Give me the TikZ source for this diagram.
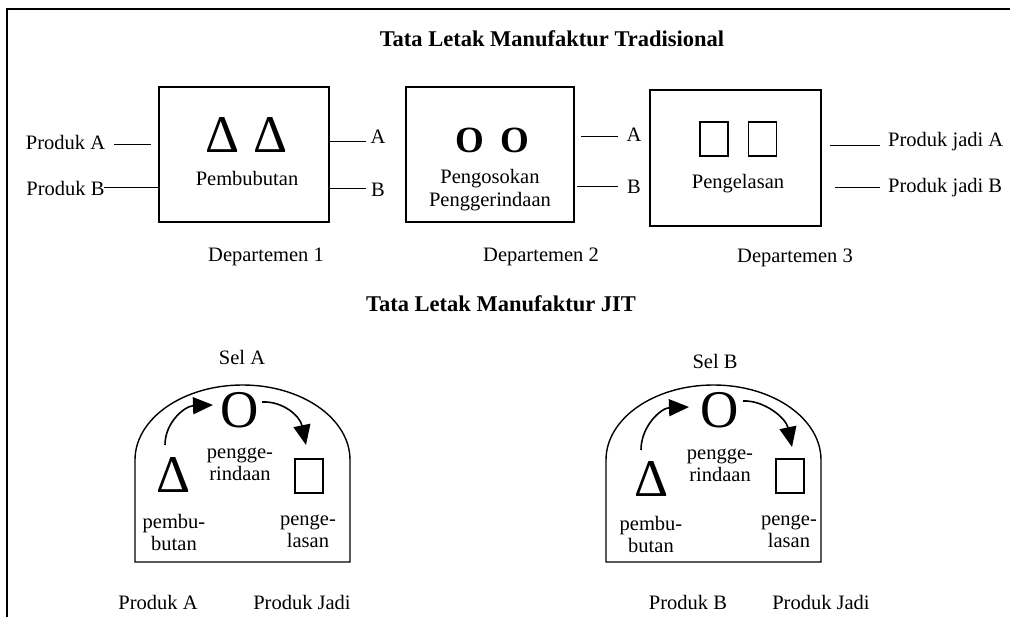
\documentclass[tikz,border=0pt]{standalone}
\usepackage{fontspec}
\setmainfont{Liberation Serif}
\usetikzlibrary{arrows.meta}
\begin{document}
\begin{tikzpicture}[x=1pt,y=-1pt,
  txt/.style={font=\fontsize{20.5}{22}\selectfont, inner sep=0pt, align=center},
  ttl/.style={font=\bfseries\fontsize{22.5}{26}\selectfont, inner sep=0pt},
  deptbox/.style={draw, line width=1.4pt, inner sep=0pt},
  tri/.style={font=\fontsize{53}{53}\selectfont, inner sep=0pt},
  bigO/.style={font=\bfseries\fontsize{37}{37}\selectfont, inner sep=0pt},
  cellO/.style={font=\fontsize{53}{53}\selectfont, inner sep=0pt},
  sq/.style={draw, line width=1.1pt, minimum width=28pt, minimum height=34pt, inner sep=0pt},
  conn/.style={line width=1pt},
  flow/.style={line width=1.6pt, -{Triangle[length=20pt,width=17pt]}},
  cell/.style={line width=1.4pt}
]
\useasboundingbox (0,0) rectangle (1010,617);
% frame
\draw[line width=1.5pt] (7,617) -- (7,9) -- (1010,9);

% ---------- traditional ----------
\node[ttl] (t1) at (552,39) {Tata Letak Manufaktur Tradisional};

\node[deptbox, minimum width=170pt, minimum height=135pt] (d1) at (244,154.5) {};
\node[deptbox, minimum width=168pt, minimum height=135pt] (d2) at (490,154.5) {};
\node[deptbox, minimum width=171pt, minimum height=136pt] (d3) at (735.5,158) {};

\node[tri] (tr1) at (223,135) {Δ};
\node[tri] (tr2) at (271,135) {Δ};
\node[txt] (p1) at (247,178) {Pembubutan};

\node[bigO] (o1) at (469.5,140.5) {O};
\node[bigO] (o2) at (514.5,140.5) {O};
\node[txt, font=\fontsize{20.5}{23}\selectfont] (p2) at (490,190) {Pengosokan\\Penggerindaan};

\node[sq] (s1) at (714,139) {};
\node[sq] (s2) at (762.5,139) {};
\node[txt] (p3) at (738,184) {Pengelasan};

\node[txt] (dep1) at (266,257) {Departemen 1};
\node[txt] (dep2) at (541,257) {Departemen 2};
\node[txt] (dep3) at (795,258) {Departemen 3};

% inputs
\node[txt] (pa) at (65.5,142) {Produk A};
\node[txt] (pb) at (65.5,188) {Produk B};
\coordinate (pa1) at (114,145);
\coordinate (pa2) at (151,145);
\draw[conn] (pa1) -- (pa2);
\coordinate (pb1) at (104,188);
\draw[conn] (pb1) -- (d1.west |- pb1);

% dept1 -> outputs
\coordinate (a1) at (366,142);
\coordinate (b1) at (366,189);
\draw[conn] (d1.east |- a1) -- (a1);
\draw[conn] (d1.east |- b1) -- (b1);
\node[txt] (la1) at (378,137) {A};
\node[txt] (lb1) at (378,190) {B};

% dept2 -> outputs
\coordinate (a2s) at (581,137);
\coordinate (a2) at (618,137);
\coordinate (b2s) at (577,187);
\coordinate (b2) at (618,187);
\draw[conn] (a2s) -- (a2);
\draw[conn] (b2s) -- (b2);
\node[txt] (la2) at (634,135) {A};
\node[txt] (lb2) at (634,187) {B};

% dept3 -> outputs
\coordinate (a3s) at (830,146);
\coordinate (a3) at (880,146);
\coordinate (b3s) at (835,188);
\coordinate (b3) at (880,188);
\draw[conn] (a3s) -- (a3);
\draw[conn] (b3s) -- (b3);
\node[txt, anchor=west] (fa) at (888,142) {Produk jadi A};
\node[txt, anchor=west] (fb) at (888,188) {Produk jadi B};

% ---------- JIT ----------
\node[ttl] (t2) at (501,304) {Tata Letak Manufaktur JIT};

% Cell A
\draw[cell] (135,562) -- (135,460) arc[start angle=180, end angle=0, x radius=107.5pt, y radius=75pt] -- (350,562) -- cycle;
\node[txt] (selA) at (242,357) {Sel A};
\node[cellO] (oA) at (240,410) {O};
\node[tri] (trA) at (174,475) {Δ};
\node[sq] (sqA) at (309,476) {};
\node[txt] (gA) at (240,464) {pengge-\\rindaan};
\node[txt] (bA) at (174,532) {pembu-\\butan};
\node[txt] (lA) at (308,531) {penge-\\lasan};
\coordinate (fA1) at (165,445);
\coordinate (fA2) at (213,405);
\coordinate (fA3) at (262,402);
\coordinate (fA4) at (306,445);
\draw[flow] (fA1) .. controls (165,422) and (185,406) .. (fA2);
\draw[flow] (fA3) .. controls (283,401) and (300,416) .. (fA4);
\node[txt] (inA) at (158,602) {Produk A};
\node[txt] (outA) at (302,602) {Produk Jadi};

% Cell B
\draw[cell] (606,562) -- (606,460) arc[start angle=180, end angle=0, x radius=107.5pt, y radius=75pt] -- (821,562) -- cycle;
\node[txt] (selB) at (715,361) {Sel B};
\node[cellO] (oB) at (720,410) {O};
\node[tri] (trB) at (652,479) {Δ};
\node[sq] (sqB) at (790,476) {};
\node[txt] (gB) at (720,465) {pengge-\\rindaan};
\node[txt] (bB) at (651,534) {pembu-\\butan};
\node[txt] (lB) at (789,531) {penge-\\lasan};
\coordinate (fB1) at (641,450);
\coordinate (fB2) at (689,407);
\coordinate (fB3) at (743,401);
\coordinate (fB4) at (792,447);
\draw[flow] (fB1) .. controls (641,426) and (661,408) .. (fB2);
\draw[flow] (fB3) .. controls (764,400) and (786,418) .. (fB4);
\node[txt] (inB) at (688,602) {Produk B};
\node[txt] (outB) at (821,602) {Produk Jadi};
\end{tikzpicture}
\end{document}
